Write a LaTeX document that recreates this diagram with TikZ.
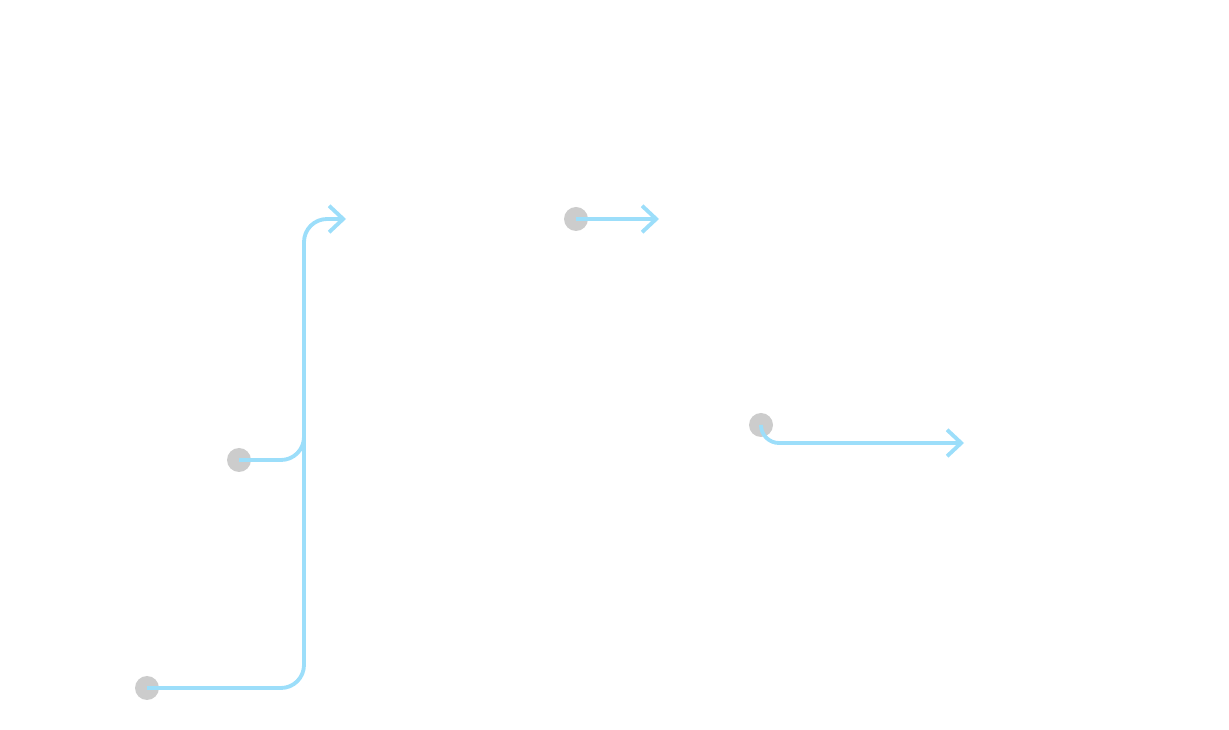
\documentclass[tikz,border=0pt]{standalone}
\usetikzlibrary{arrows.meta}
\definecolor{dotgray}{RGB}{204,204,204}
\definecolor{flowblue}{RGB}{156,222,250}
\tikzset{
  dot/.style={circle,fill=dotgray,inner sep=0pt,minimum size=0.48cm},
  flow/.style={draw=flowblue,line width=2.2pt},
  flowtip/.style={flow,-{Straight Barb[length=8pt,width=15pt,line width=2.2pt]}}
}
\begin{document}
\begin{tikzpicture}
\useasboundingbox (0,0) rectangle (24.58,14.6);
% start points
\node[dot] (a) at (2.94,0.84) {};
\node[dot] (b) at (4.78,5.40) {};
\node[dot] (c) at (11.52,10.22) {};
\node[dot] (d) at (15.22,6.10) {};
% ends
\coordinate (ae) at (6.92,10.22);
\coordinate (bj) at (6.08,5.9);
\coordinate (ce) at (13.18,10.22);
\coordinate (de) at (19.28,5.74);
% connectors
\draw[flowtip,rounded corners=0.46cm] (a.center) -- (6.08,0.84) -- (6.08,10.22) -- (ae);
\draw[flow,rounded corners=0.46cm] (b.center) -| (bj);
\draw[flowtip] (c.center) -- (ce);
\draw[flowtip,rounded corners=0.36cm] (d.center) |- (de);
\end{tikzpicture}
\end{document}
